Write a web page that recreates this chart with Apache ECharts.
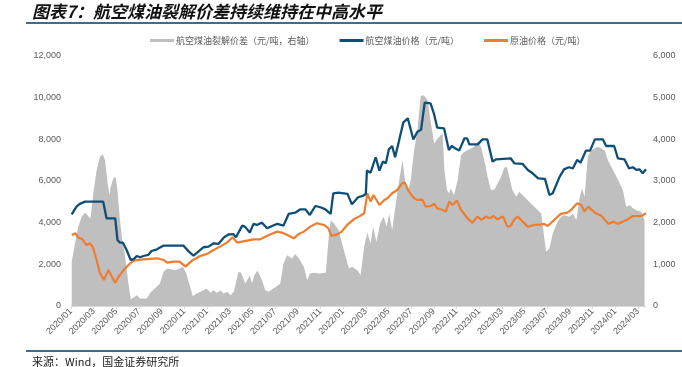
<!DOCTYPE html>
<html>
<head>
<meta charset="utf-8">
<script src="https://cdn.jsdelivr.net/npm/echarts@6/dist/echarts.min.js"></script>
<style>
html,body{margin:0;padding:0;background:#fff;}
#c{width:682px;height:367px;}
</style>
</head>
<body>
<div id="c"></div>
<script>
// ---------- DATA ----------
const titleText = '图表7：航空煤油裂解价差持续维持在中高水平';
const sourceText = '来源：Wind，国金证券研究所';
const seriesNames = ['航空煤油裂解价差（元/吨，右轴）', '航空煤油价格（元/吨）', '原油价格（元/吨）'];

const leftTicks = [0, 2000, 4000, 6000, 8000, 10000, 12000];
const rightTicks = [0, 1000, 2000, 3000, 4000, 5000, 6000];

// Jet fuel price (left axis)
const jetDates = ['2020-01-03','2020-01-16','2020-01-25','2020-02-08','2020-03-27','2020-04-05','2020-04-28','2020-05-04','2020-05-11','2020-05-19','2020-05-29','2020-06-09','2020-06-17','2020-06-25','2020-07-04','2020-07-13','2020-07-26','2020-08-04','2020-08-19','2020-09-06','2020-10-29','2020-11-13','2020-11-25','2020-12-08','2020-12-22','2021-01-05','2021-01-19','2021-02-01','2021-02-15','2021-02-27','2021-03-11','2021-03-18','2021-04-04','2021-04-12','2021-04-24','2021-05-04','2021-05-13','2021-05-27','2021-06-10','2021-06-23','2021-07-07','2021-07-24','2021-08-07','2021-08-25','2021-09-08','2021-09-21','2021-10-03','2021-10-18','2021-11-01','2021-11-14','2021-11-28','2021-12-05','2021-12-19','2022-01-13','2022-01-25','2022-02-10','2022-02-22','2022-03-01','2022-03-04','2022-03-14','2022-03-28','2022-04-07','2022-04-16','2022-04-24','2022-05-02','2022-05-11','2022-05-19','2022-05-29','2022-06-10','2022-06-22','2022-07-07','2022-07-18','2022-07-28','2022-08-07','2022-08-23','2022-09-01','2022-09-10','2022-09-28','2022-10-11','2022-10-19','2022-10-28','2022-11-08','2022-11-22','2022-11-29','2022-12-05','2022-12-28','2023-01-10','2023-01-23','2023-02-06','2023-02-15','2023-03-25','2023-04-04','2023-04-26','2023-05-10','2023-05-23','2023-06-07','2023-06-25','2023-07-07','2023-07-16','2023-08-04','2023-08-16','2023-08-29','2023-09-09','2023-09-20','2023-09-29','2023-10-14','2023-10-25','2023-11-07','2023-11-28','2023-12-07','2023-12-29','2024-01-08','2024-01-26','2024-02-07','2024-02-17','2024-02-26','2024-03-05','2024-03-14','2024-03-23'];
const jetPrice = [4400,4770,4900,5010,5010,4210,4210,3170,3040,3040,2690,2210,2250,2400,2340,2400,2450,2640,2720,2900,2900,2610,2420,2610,2820,2850,3010,2980,3300,3440,3450,3300,3860,3800,3520,3940,3890,4000,3730,3840,3940,3860,4420,4480,4640,4640,4370,4800,4740,4640,4420,5410,5440,5380,4880,5220,5290,5380,6500,6400,7140,6500,6930,6850,7520,7680,7140,7870,8800,9010,7990,8360,8460,9760,9730,9250,8560,8530,7490,7680,7570,7460,8050,8050,7760,7760,8000,8000,6930,7040,7090,6850,6820,6530,6370,6130,6100,5330,5410,6210,6560,6660,6610,7010,6880,7460,7460,8000,8000,7680,7680,7090,7040,6610,6660,6530,6560,6370,6560];

// Crude oil price (left axis)
const crudeDates = ['2020-01-03','2020-01-13','2020-01-20','2020-02-01','2020-02-12','2020-02-20','2020-02-28','2020-03-09','2020-03-18','2020-03-29','2020-04-10','2020-04-19','2020-04-28','2020-05-07','2020-05-20','2020-06-03','2020-06-16','2020-07-13','2020-08-19','2020-09-06','2020-09-15','2020-10-03','2020-10-19','2020-11-04','2020-11-21','2020-12-13','2021-01-01','2021-01-19','2021-02-05','2021-02-22','2021-03-09','2021-03-21','2021-04-03','2021-04-17','2021-05-04','2021-05-22','2021-06-19','2021-07-07','2021-07-20','2021-07-29','2021-08-21','2021-09-04','2021-09-17','2021-10-04','2021-10-22','2021-11-10','2021-11-22','2021-11-30','2021-12-16','2021-12-28','2022-01-12','2022-01-30','2022-02-12','2022-02-25','2022-03-01','2022-03-05','2022-03-14','2022-03-22','2022-04-07','2022-04-20','2022-04-28','2022-05-11','2022-05-25','2022-06-07','2022-06-14','2022-06-25','2022-07-09','2022-07-18','2022-08-01','2022-08-10','2022-08-23','2022-09-02','2022-09-10','2022-09-25','2022-10-03','2022-10-12','2022-10-21','2022-11-02','2022-11-13','2022-11-30','2022-12-13','2022-12-27','2023-01-07','2023-01-19','2023-01-31','2023-02-09','2023-02-17','2023-03-04','2023-03-16','2023-03-25','2023-04-04','2023-04-13','2023-04-26','2023-05-10','2023-05-28','2023-06-10','2023-06-23','2023-07-02','2023-07-20','2023-08-07','2023-08-25','2023-09-04','2023-09-20','2023-10-01','2023-10-10','2023-10-20','2023-11-07','2023-11-25','2023-12-13','2023-12-27','2024-01-07','2024-01-22','2024-02-04','2024-02-17','2024-03-10','2024-03-23'];
const crudePrice = [3410,3490,3300,3200,2930,3010,2820,2210,1600,1250,1730,1410,1120,1410,1700,1970,2180,2240,2290,2210,2080,2130,2130,1890,2180,2400,2500,2690,2850,3040,3300,3040,3090,3140,3200,3200,3440,3570,3520,3460,3250,3460,3570,3810,3970,3890,3730,3360,3440,3570,3890,4160,4290,4450,4930,5410,5010,5330,4850,5090,5170,5410,5570,5890,5920,5490,5170,5090,5090,4770,4800,4900,4690,4610,4530,5010,4850,5060,4610,4210,4000,4290,4130,4290,4210,4320,4160,4290,3810,3840,4160,4290,4050,3810,3890,3900,3940,3840,4130,4420,4480,4610,4930,4850,4530,4770,4480,4320,3940,4050,3940,4050,4160,4320,4320,4450];

// Jet fuel crack spread (right axis)
const spreadDates = ['2020-01-03','2020-01-07','2020-01-12','2020-01-21','2020-01-30','2020-02-08','2020-02-22','2020-02-29','2020-03-09','2020-03-18','2020-03-26','2020-04-01','2020-04-08','2020-04-13','2020-04-16','2020-04-23','2020-04-29','2020-05-04','2020-05-10','2020-05-16','2020-05-25','2020-06-03','2020-06-09','2020-06-18','2020-06-25','2020-07-04','2020-07-22','2020-08-01','2020-08-13','2020-08-27','2020-09-06','2020-09-15','2020-10-07','2020-10-19','2020-10-28','2020-11-06','2020-11-15','2020-11-23','2020-12-04','2020-12-22','2020-12-31','2021-01-10','2021-01-19','2021-01-28','2021-02-06','2021-02-14','2021-02-23','2021-03-03','2021-03-12','2021-03-25','2021-04-01','2021-04-12','2021-04-17','2021-04-24','2021-04-30','2021-05-06','2021-05-15','2021-05-27','2021-06-05','2021-06-14','2021-06-23','2021-07-02','2021-07-15','2021-07-24','2021-08-03','2021-08-16','2021-08-25','2021-09-04','2021-09-17','2021-09-26','2021-10-03','2021-10-14','2021-10-28','2021-11-15','2021-11-23','2021-11-28','2021-12-07','2021-12-20','2022-01-03','2022-01-17','2022-01-26','2022-02-08','2022-02-16','2022-02-25','2022-03-05','2022-03-14','2022-03-21','2022-03-30','2022-04-09','2022-04-18','2022-04-26','2022-05-03','2022-05-11','2022-05-21','2022-05-29','2022-06-08','2022-06-17','2022-06-23','2022-06-30','2022-07-09','2022-07-18','2022-07-27','2022-08-04','2022-08-15','2022-08-24','2022-09-02','2022-09-11','2022-09-24','2022-09-29','2022-10-06','2022-10-12','2022-10-16','2022-10-25','2022-11-04','2022-11-13','2022-11-22','2022-11-30','2022-12-18','2022-12-27','2023-01-06','2023-01-15','2023-01-24','2023-02-02','2023-02-11','2023-02-27','2023-03-08','2023-03-15','2023-03-21','2023-03-30','2023-04-09','2023-04-17','2023-04-26','2023-05-05','2023-05-18','2023-06-02','2023-06-15','2023-06-28','2023-07-07','2023-07-16','2023-07-29','2023-08-08','2023-08-17','2023-08-30','2023-09-09','2023-09-18','2023-09-27','2023-10-03','2023-10-10','2023-10-19','2023-10-28','2023-11-06','2023-11-15','2023-12-03','2023-12-12','2023-12-26','2024-01-09','2024-01-22','2024-01-31','2024-02-09','2024-02-18','2024-02-26','2024-03-10','2024-03-19','2024-03-23'];
const spreadValue = [1060,1060,1500,1900,2140,2240,2100,2700,3260,3580,3640,3500,2940,2660,2860,3060,3100,2780,2140,1660,1180,540,160,210,260,180,180,320,420,540,820,900,860,900,940,780,500,240,300,380,420,320,380,320,370,300,340,260,340,820,800,540,620,740,540,740,850,620,380,340,400,450,540,1020,1220,1140,1250,1140,940,620,780,800,780,800,1660,2060,1980,1820,1340,900,940,860,740,1420,1760,1500,1900,1540,1980,2140,1900,2220,1820,2460,2940,3500,2860,2780,3020,3740,4220,5040,5060,4940,4380,3900,4020,4140,3260,2780,2700,2820,2660,3020,3620,3700,3740,3820,3940,3820,3500,3100,2780,2800,3100,3330,3330,3100,2780,2620,2740,2660,2580,2460,2340,2220,1300,1380,1740,2020,2140,2180,2140,2220,2060,2620,2820,2620,3580,3740,3780,3820,3740,3500,3260,3020,2780,2380,2420,2340,2300,2260,2060];

// ---------- BUILD ----------
function toMonths(s) {
  const p = s.split('-').map(Number);
  const dim = new Date(p[0], p[1], 0).getDate();
  return (p[0] - 2020) * 12 + (p[1] - 1) + (p[2] - 1) / dim;
}
function pairs(dates, vals) { return dates.map((d, i) => [toMonths(d), vals[i]]); }
const lastM = Math.max(toMonths(jetDates[jetDates.length-1]), toMonths(spreadDates[spreadDates.length-1]));

const axisTextColor = '#595959';
const chart = echarts.init(document.getElementById('c'), null, {renderer: 'canvas'});
chart.setOption({
  animation: false,
  backgroundColor: '#fff',
  textStyle: {fontFamily: 'Arial, "Liberation Sans", "Noto Sans CJK SC", sans-serif'},
  graphic: [
    {type: 'text', left: 32, top: 3, style: {text: titleText, fontSize: 17, fontWeight: 'bold', fontStyle: 'italic', fontFamily: '"Noto Sans CJK SC", sans-serif', fill: '#111'}},
    {type: 'rect', shape: {x: 26, y: 22, width: 656, height: 2}, style: {fill: '#3c6f8e'}},
    {type: 'rect', shape: {x: 26, y: 350, width: 656, height: 2}, style: {fill: '#3c6f8e'}},
    {type: 'text', left: 32, top: 356, style: {text: sourceText, fontSize: 11, fontFamily: '"Noto Sans CJK SC", sans-serif', fill: '#222'}}
  ],
  legend: {
    left: 145, top: 31,
    itemWidth: 24, itemHeight: 3, itemGap: 25,
    icon: 'rect',
    textStyle: {fontSize: 9, color: axisTextColor, fontFamily: '"Noto Sans CJK SC", sans-serif', padding: [0,0,0,-3]},
    data: seriesNames
  },
  grid: {left: 71, right: 36, top: 56, bottom: 61},
  xAxis: {
    type: 'value', min: 0, max: lastM, interval: 2,
    axisLine: {show: true, lineStyle: {color: '#d9d9d9', width: 1}},
    axisTick: {show: true, length: 3, lineStyle: {color: '#d9d9d9'}},
    splitLine: {show: false},
    axisLabel: {
      rotate: 45, fontSize: 9, color: axisTextColor, margin: 4,
      showMaxLabel: false,
      formatter: function (v) {
        const r = Math.round(v);
        if (Math.abs(v - r) > 1e-6 || r % 2 !== 0) return '';
        const y = 2020 + Math.floor(r / 12), m = r % 12 + 1;
        return y + '/' + (m < 10 ? '0' + m : m);
      }
    }
  },
  yAxis: [
    {type: 'value', min: leftTicks[0], max: leftTicks[leftTicks.length-1], interval: leftTicks[1]-leftTicks[0],
     axisLine: {show: false}, axisTick: {show: false}, splitLine: {show: false},
     axisLabel: {fontSize: 9, color: axisTextColor, margin: 10}},
    {type: 'value', min: rightTicks[0], max: rightTicks[rightTicks.length-1], interval: rightTicks[1]-rightTicks[0],
     axisLine: {show: false}, axisTick: {show: false}, splitLine: {show: false},
     axisLabel: {fontSize: 9, color: axisTextColor, margin: 7}}
  ],
  series: [
    {name: seriesNames[0], type: 'line', yAxisIndex: 1, data: pairs(spreadDates, spreadValue),
     showSymbol: false, symbol: 'none', color: '#bfbfbf',
     lineStyle: {width: 0, color: '#bfbfbf'}, areaStyle: {color: '#bfbfbf', opacity: 1}, z: 1},
    {name: seriesNames[1], type: 'line', yAxisIndex: 0, data: pairs(jetDates, jetPrice),
     showSymbol: false, symbol: 'none', color: '#0f4f76',
     lineStyle: {width: 2.3, color: '#0f4f76'}, z: 3},
    {name: seriesNames[2], type: 'line', yAxisIndex: 0, data: pairs(crudeDates, crudePrice),
     showSymbol: false, symbol: 'none', color: '#ed7d31',
     lineStyle: {width: 2.2, color: '#ed7d31'}, z: 2}
  ]
});
</script>
</body>
</html>
